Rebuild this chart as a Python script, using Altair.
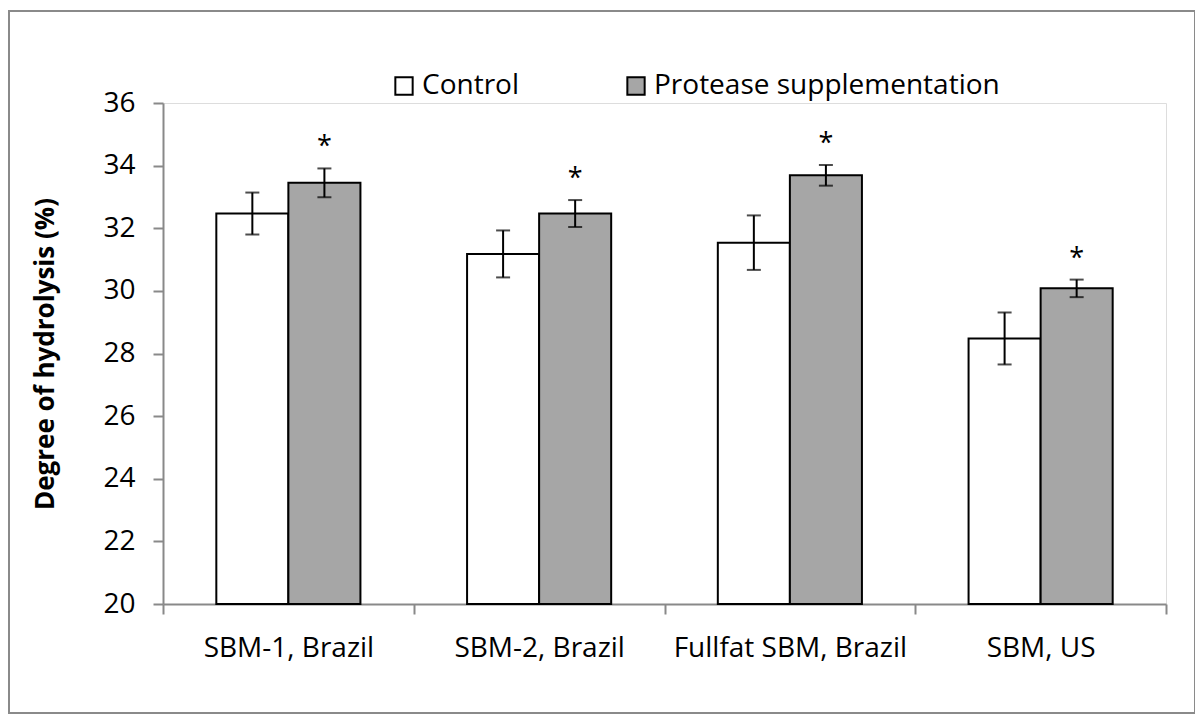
import altair as alt
import pandas as pd

categories = ["SBM-1, Brazil", "SBM-2, Brazil", "Fullfat SBM, Brazil", "SBM, US"]
series = ["Control", "Protease supplementation"]
control = [32.47, 31.18, 31.54, 28.48]
control_err = [0.67, 0.75, 0.87, 0.83]
protease = [33.45, 32.47, 33.69, 30.08]
protease_err = [0.46, 0.43, 0.33, 0.28]
significant = ["*", "*", "*", "*"]

rows = []
for i, c in enumerate(categories):
    rows.append(dict(cat=c, series=series[0], value=control[i], err=control_err[i], sig=""))
    rows.append(dict(cat=c, series=series[1], value=protease[i], err=protease_err[i], sig=significant[i]))
df = pd.DataFrame(rows)
df["lo"] = df["value"] - df["err"]
df["hi"] = df["value"] + df["err"]

FONT = "Open Sans"
GREY = "#898989"
W, H = 1003, 501

x = alt.X("cat:N", sort=categories, title=None,
          scale=alt.Scale(paddingInner=0, paddingOuter=0),
          axis=alt.Axis(labelAngle=0, labelFont=FONT, labelFontSize=28, labelColor="#000",
                        labelLimit=400, labelPadding=20, tickBand="extent", tickSize=10,
                        tickWidth=2, tickColor=GREY, domainColor=GREY, domainWidth=2))
xo = alt.XOffset("series:N", sort=series, scale=alt.Scale(paddingOuter=0.74, paddingInner=0))

bars = alt.Chart(df).mark_bar(stroke="black", strokeWidth=2).encode(
    x=x, xOffset=xo,
    y=alt.Y("value:Q", scale=alt.Scale(domain=[20, 36], zero=False, nice=False),
            title="Degree of hydrolysis  (%)",
            axis=alt.Axis(values=list(range(20, 37, 2)), grid=False, labelFont=FONT,
                          labelFontSize=28, labelColor="#000", labelPadding=18,
                          tickSize=10, tickWidth=2, tickColor=GREY, domainColor=GREY,
                          domainWidth=2, titleFont=FONT, titleFontSize=26,
                          titleFontWeight="bold", titleColor="#000", titlePadding=44)),
    y2=alt.Y2(datum=20),
    fill=alt.Fill("series:N", sort=series,
                  scale=alt.Scale(domain=series, range=["#ffffff", "#a6a6a6"]),
                  legend=alt.Legend(title=None, orient="none", direction="horizontal",
                                    legendX=227, legendY=-31, symbolType="square",
                                    symbolSize=300, symbolStrokeColor="black",
                                    symbolStrokeWidth=2, labelFont=FONT, labelFontSize=28,
                                    labelColor="#000", labelLimit=600, columnPadding=103,
                                    labelOffset=4)),
)

rules = alt.Chart(df).mark_rule(color="black", strokeWidth=2).encode(
    x=x, xOffset=xo, y="lo:Q", y2="hi:Q")
caps_hi = alt.Chart(df).mark_tick(color="black", thickness=2, size=14, orient="horizontal").encode(
    x=x, xOffset=xo, y="hi:Q")
caps_lo = alt.Chart(df).mark_tick(color="black", thickness=2, size=14, orient="horizontal").encode(
    x=x, xOffset=xo, y="lo:Q")
stars = alt.Chart(df).mark_text(font=FONT, fontSize=27, color="black", dy=-13,
                                baseline="alphabetic").encode(
    x=x, xOffset=xo, y="hi:Q", text="sig:N")

border = alt.Chart(pd.DataFrame({"k": [0]})).mark_rect(
    fill=None, stroke="#8a8a8a", strokeWidth=2, clip=False).encode(
    x=alt.value(-154), x2=alt.value(1032), y=alt.value(-92), y2=alt.value(610))

chart = alt.layer(border, bars, rules, caps_hi, caps_lo, stars).properties(
    width=W, height=H,
    autosize=alt.AutoSizeParams(type="none"),
    padding={"left": 155, "top": 95, "right": 29, "bottom": 111},
).configure_view(stroke=None).configure(background="white")

chart.save("out.html", embed_options={"renderer": "svg", "actions": False})
